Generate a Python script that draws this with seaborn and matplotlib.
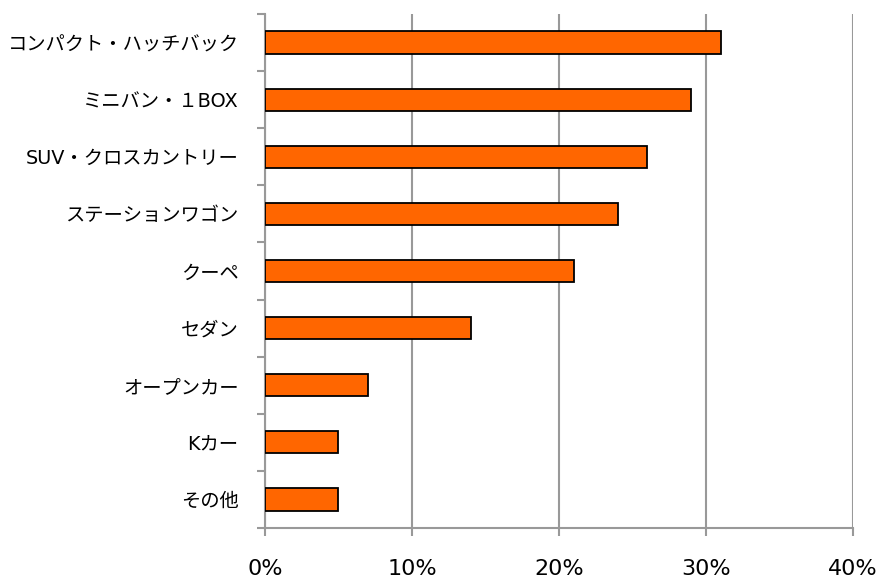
import matplotlib
matplotlib.use("Agg")
import matplotlib.pyplot as plt
import seaborn as sns
import pandas as pd
from matplotlib.ticker import FuncFormatter, FixedLocator

sns.set_theme(style="white")
plt.rcParams['font.family'] = ['DejaVu Sans', 'Noto Sans CJK JP']

categories = ["コンパクト・ハッチバック", "ミニバン・１BOX", "SUV・クロスカントリー",
              "ステーションワゴン", "クーペ", "セダン", "オープンカー", "Kカー", "その他"]
values = [31, 29, 26, 24, 21, 14, 7, 5, 5]
xticks = [0, 10, 20, 30, 40]

df = pd.DataFrame({"type": categories, "share": values})

fig = plt.figure(figsize=(8.87, 5.79), dpi=100)
ax = fig.add_axes([265/887, 1-528/579, (853-265)/887, (528-14)/579])

sns.barplot(data=df, x="share", y="type", orient="h", color="#FF6600",
            edgecolor="black", linewidth=1.3, width=0.39, saturation=1, ax=ax, zorder=3)

ax.set_xlim(0, 40)
ax.set_ylim(len(categories)-0.5, -0.5)
ax.set_xticks(xticks)
ax.xaxis.set_major_formatter(FuncFormatter(lambda v, p: f"{v:.0f}%"))
ax.grid(axis="x", color="#999999", linewidth=1.5, zorder=0)
ax.grid(axis="y", visible=False)
ax.set_xlabel("")
ax.set_ylabel("")

for s in ["top", "right"]:
    ax.spines[s].set_visible(False)
for s in ["left", "bottom"]:
    ax.spines[s].set_color("#999999")
    ax.spines[s].set_linewidth(1.5)

ax.yaxis.set_minor_locator(FixedLocator([i - 0.5 for i in range(len(categories)+1)]))
ax.tick_params(axis="y", which="major", length=0, pad=19, labelsize=13.9, colors="black")
ax.tick_params(axis="y", which="minor", length=6, width=1.5, color="#999999", left=True)
ax.tick_params(axis="x", which="major", length=6, width=1.5, color="#999999",
               bottom=True, pad=16, labelsize=16, labelcolor="black")

fig.savefig("out.png", dpi=100)
